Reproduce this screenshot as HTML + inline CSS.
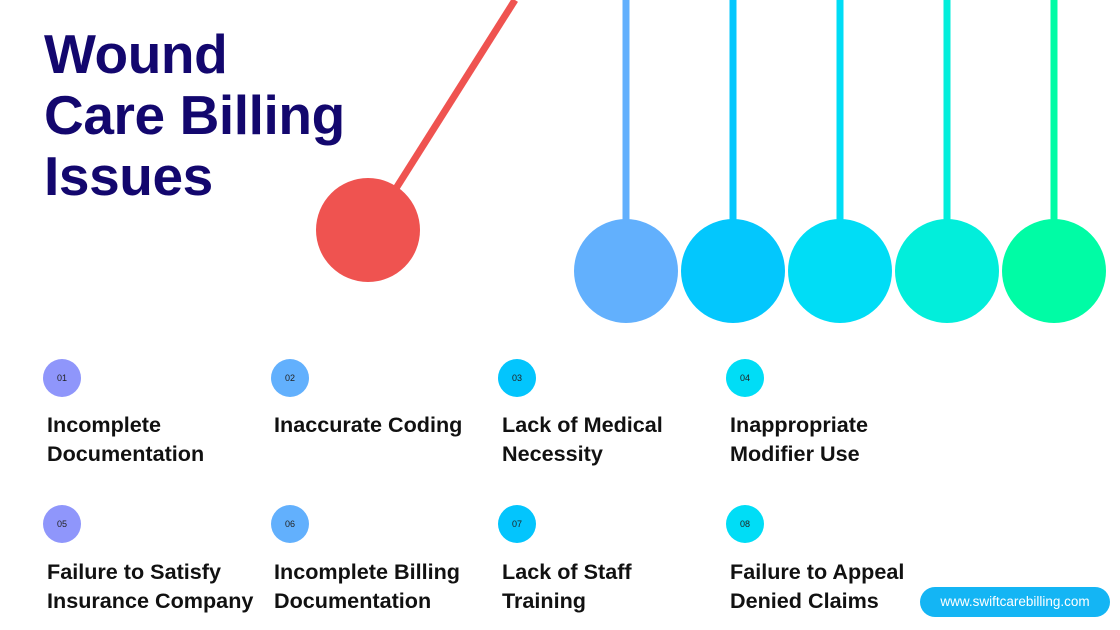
<!DOCTYPE html>
<html><head><meta charset="utf-8"><style>
body{margin:0;width:1120px;height:630px;background:#fff;position:relative;overflow:hidden;font-family:"Liberation Sans",sans-serif}
.t{position:absolute;left:44px;color:#13076e;font-weight:bold;font-size:55px;line-height:61px;top:24px;letter-spacing:-0.4px}
.n{position:absolute;width:38px;height:38px;border-radius:50%;font-size:9px;color:#222;text-align:center;line-height:38px}
.l{position:absolute;font-weight:bold;font-size:21.6px;line-height:29px;color:#111;white-space:nowrap}
.pill{position:absolute;left:920px;top:587px;width:190px;height:30px;border-radius:15px;background:#14b5f4;color:#fff;font-size:13.5px;text-align:center;line-height:30px}
</style></head><body>
<svg width="1120" height="630" style="position:absolute;left:0;top:0">
<line x1="395" y1="190" x2="515" y2="0" stroke="#ef5350" stroke-width="7"/>
<circle cx="368" cy="230" r="52" fill="#ef5350"/>
<g stroke-width="7">
<line x1="626" y1="0" x2="626" y2="225" stroke="#62b0fd"/>
<line x1="733" y1="0" x2="733" y2="225" stroke="#03c7fd"/>
<line x1="840" y1="0" x2="840" y2="225" stroke="#00ddf6"/>
<line x1="947" y1="0" x2="947" y2="225" stroke="#02eedb"/>
<line x1="1054" y1="0" x2="1054" y2="225" stroke="#00fca5"/>
</g>
<ellipse cx="626" cy="271" rx="52" ry="52" fill="#62b0fd"/>
<ellipse cx="733" cy="271" rx="52" ry="52" fill="#03c7fd"/>
<ellipse cx="840" cy="271" rx="52" ry="52" fill="#00ddf6"/>
<ellipse cx="947" cy="271" rx="52" ry="52" fill="#02eedb"/>
<ellipse cx="1054" cy="271" rx="52" ry="52" fill="#00fca5"/>
</svg>
<div class="t">Wound<br>Care Billing<br>Issues</div>
<div class="n" style="left:43px;top:359px;background:#8f96fb">01</div>
<div class="n" style="left:271px;top:359px;background:#62b0fd">02</div>
<div class="n" style="left:498px;top:359px;background:#03c5fd">03</div>
<div class="n" style="left:726px;top:359px;background:#00ddf6">04</div>
<div class="n" style="left:43px;top:505px;background:#8f96fb">05</div>
<div class="n" style="left:271px;top:505px;background:#62b0fd">06</div>
<div class="n" style="left:498px;top:505px;background:#03c5fd">07</div>
<div class="n" style="left:726px;top:505px;background:#00ddf6">08</div>
<div class="l" style="left:47px;top:410px">Incomplete<br>Documentation</div>
<div class="l" style="left:274px;top:410px">Inaccurate Coding</div>
<div class="l" style="left:502px;top:410px">Lack of Medical<br>Necessity</div>
<div class="l" style="left:730px;top:410px">Inappropriate<br>Modifier Use</div>
<div class="l" style="left:47px;top:557px">Failure to Satisfy<br>Insurance Company</div>
<div class="l" style="left:274px;top:557px">Incomplete Billing<br>Documentation</div>
<div class="l" style="left:502px;top:557px">Lack of Staff<br>Training</div>
<div class="l" style="left:730px;top:557px">Failure to Appeal<br>Denied Claims</div>
<div class="pill">www.swiftcarebilling.com</div>
</body></html>
